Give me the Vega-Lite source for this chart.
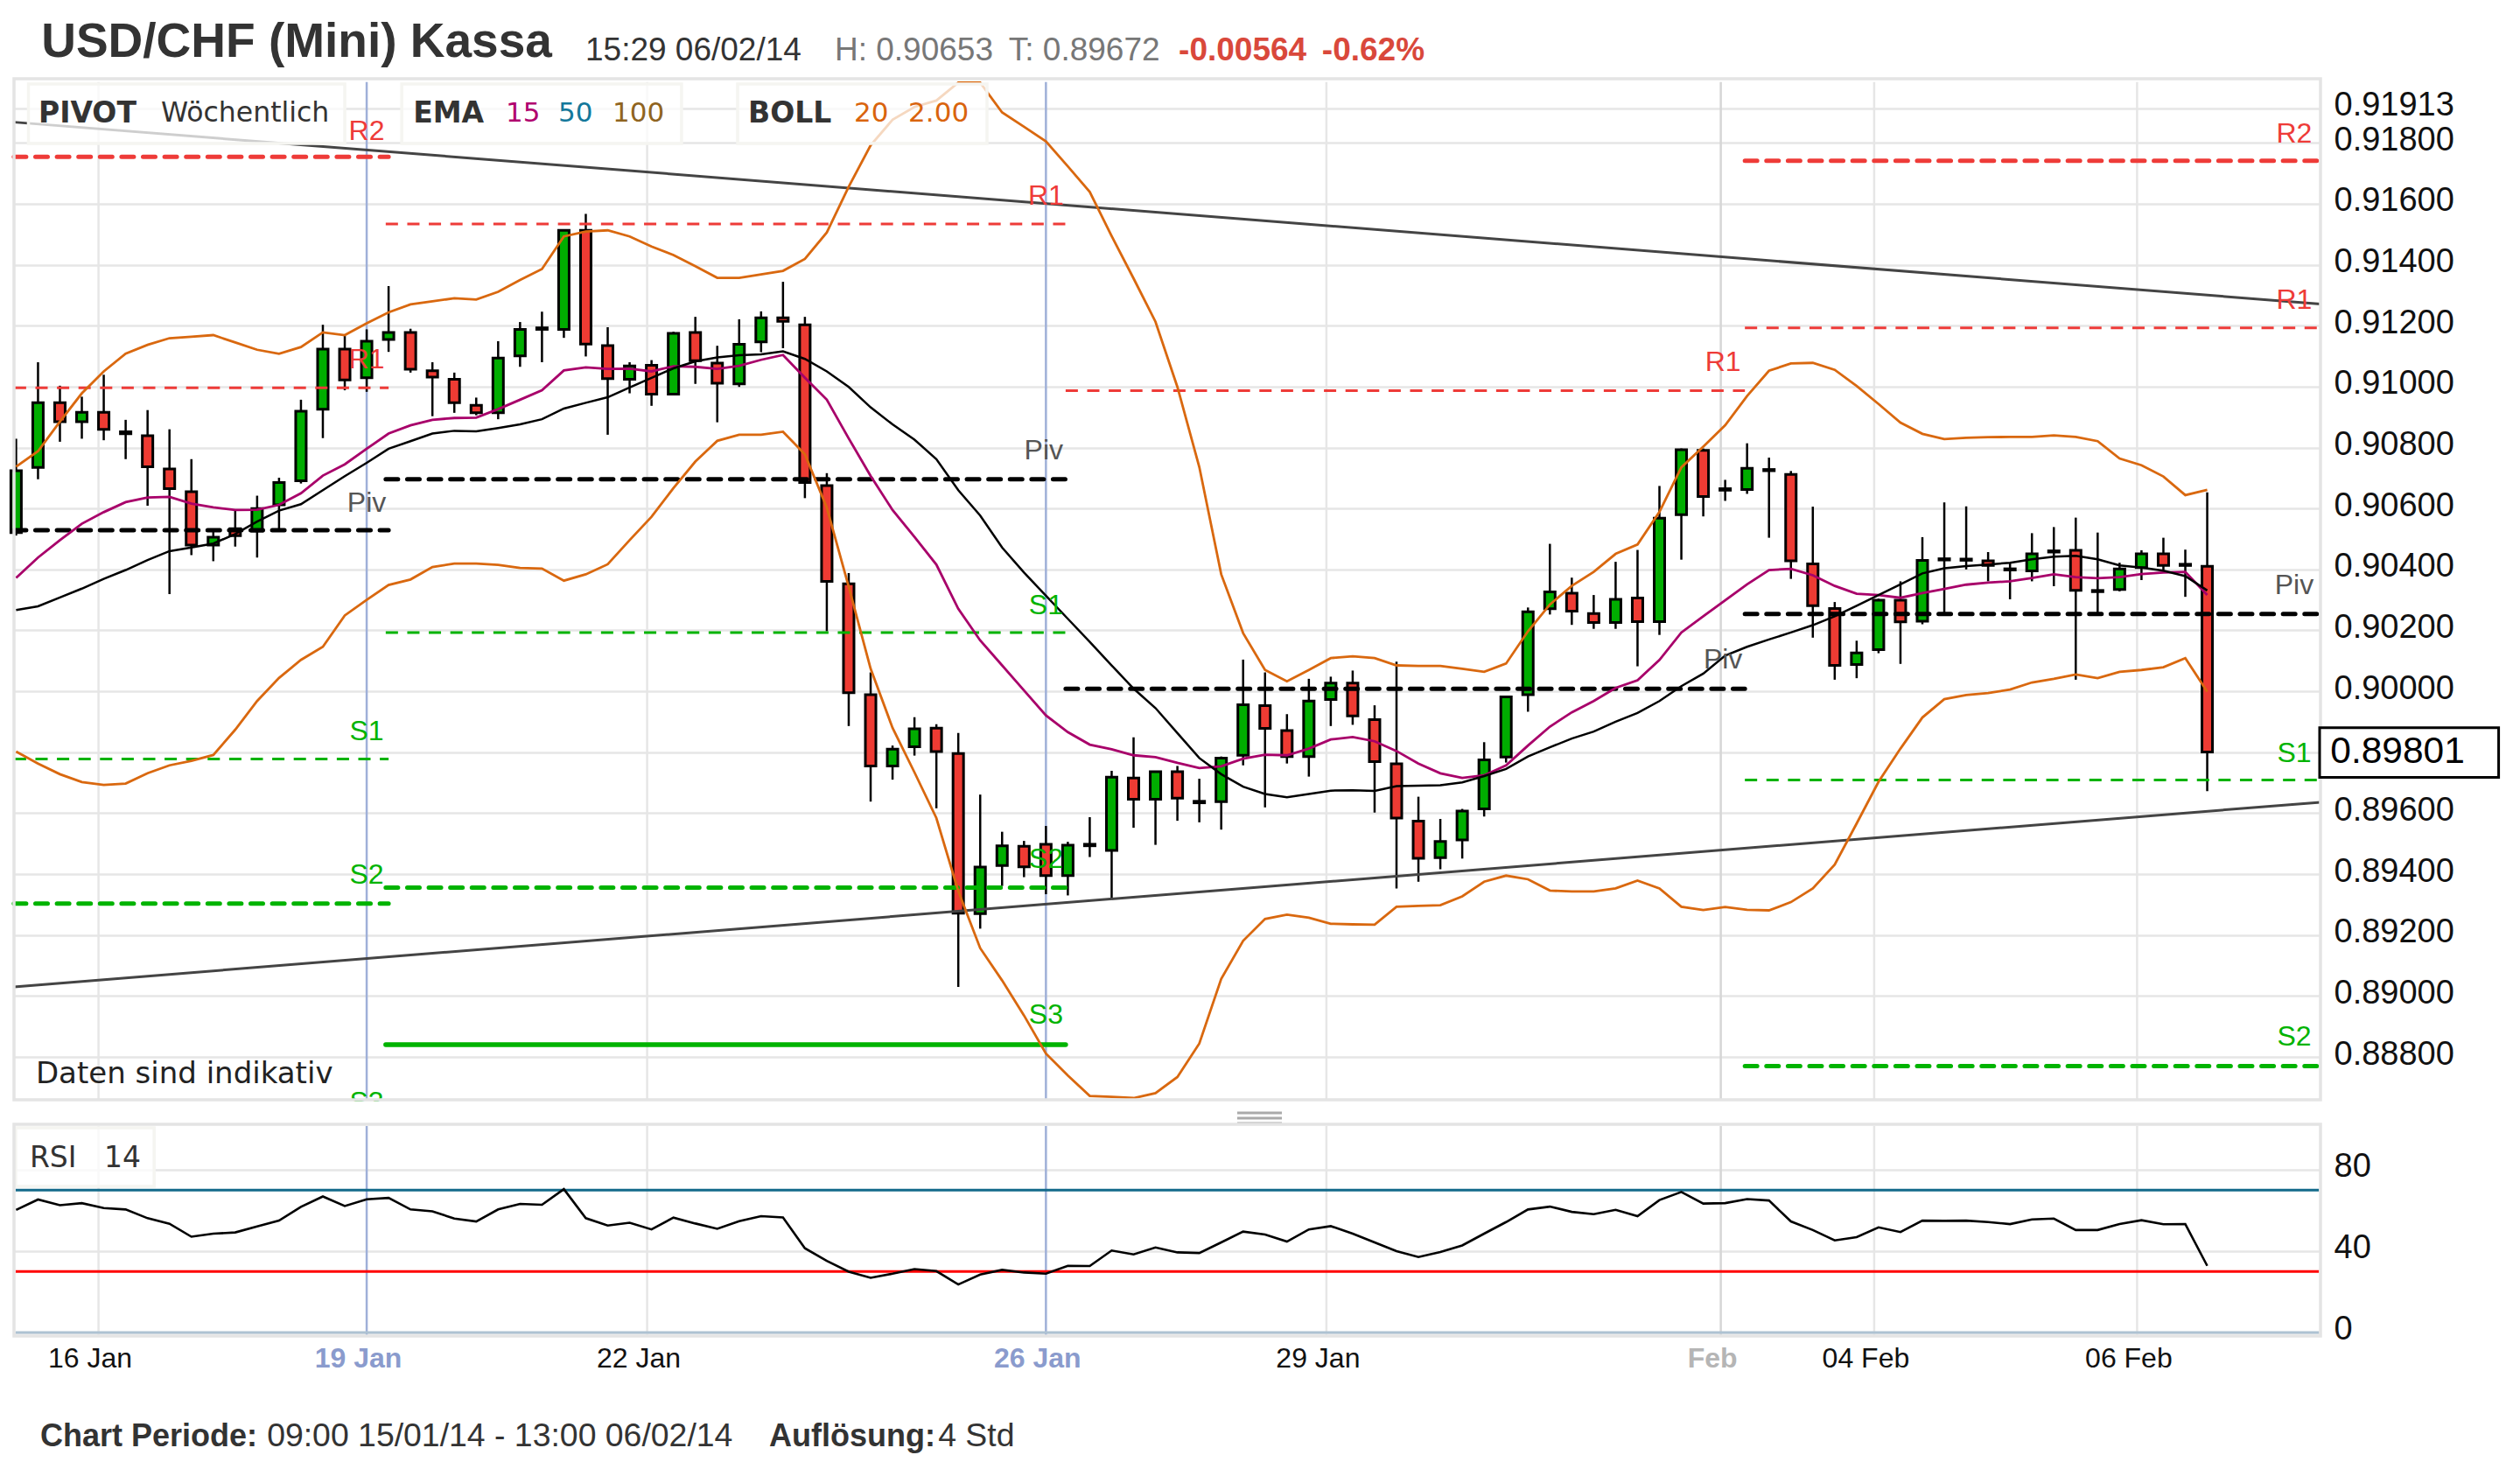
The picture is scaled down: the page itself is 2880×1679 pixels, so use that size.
{
"$schema":"https://vega.github.io/schema/vega-lite/v6.json",
"width":2636,"height":1437,
"padding":{"left":16,"top":90,"right":228,"bottom":152},
"autosize":{"type":"none"},
"background":"white",
"config":{"view":{"stroke":null}},
"datasets":{
"bars":[
{"bar":0,"open":0.90521,"high":0.90829,"low":0.90511,"close":0.90724,"ema15":0.90372,"average":0.90267,"upper":0.90737,"lower":0.89802,"rsi":60.3},
{"bar":1,"open":0.90735,"high":0.9108,"low":0.90696,"close":0.90947,"ema15":0.90439,"average":0.90279,"upper":0.90788,"lower":0.89763,"rsi":65.4},
{"bar":2,"open":0.90947,"high":0.91003,"low":0.90819,"close":0.90885,"ema15":0.90496,"average":0.90308,"upper":0.90885,"lower":0.89728,"rsi":62.6},
{"bar":3,"open":0.90885,"high":0.90967,"low":0.90829,"close":0.90916,"ema15":0.9055,"average":0.90337,"upper":0.90978,"lower":0.89702,"rsi":63.6},
{"bar":4,"open":0.90916,"high":0.91039,"low":0.90824,"close":0.9086,"ema15":0.90588,"average":0.90369,"upper":0.9105,"lower":0.89693,"rsi":61.2},
{"bar":5,"open":0.90852,"high":0.90891,"low":0.90762,"close":0.90845,"ema15":0.90621,"average":0.90398,"upper":0.91108,"lower":0.89697,"rsi":60.5},
{"bar":6,"open":0.90839,"high":0.90923,"low":0.90609,"close":0.90737,"ema15":0.90636,"average":0.90431,"upper":0.91137,"lower":0.89731,"rsi":56.2},
{"bar":7,"open":0.9073,"high":0.9086,"low":0.90319,"close":0.90665,"ema15":0.90638,"average":0.9046,"upper":0.91159,"lower":0.89757,"rsi":53.5},
{"bar":8,"open":0.90655,"high":0.90762,"low":0.90447,"close":0.9048,"ema15":0.90616,"average":0.90472,"upper":0.91164,"lower":0.89772,"rsi":47.1},
{"bar":9,"open":0.9048,"high":0.90526,"low":0.90427,"close":0.90506,"ema15":0.90604,"average":0.90485,"upper":0.91169,"lower":0.89791,"rsi":48.6},
{"bar":10,"open":0.90534,"high":0.90593,"low":0.90475,"close":0.90511,"ema15":0.90595,"average":0.90516,"upper":0.91145,"lower":0.89874,"rsi":49.2},
{"bar":11,"open":0.90526,"high":0.90642,"low":0.90439,"close":0.906,"ema15":0.90596,"average":0.90557,"upper":0.91121,"lower":0.89968,"rsi":52.2},
{"bar":12,"open":0.90612,"high":0.90701,"low":0.90526,"close":0.90685,"ema15":0.90612,"average":0.90593,"upper":0.91108,"lower":0.90044,"rsi":55},
{"bar":13,"open":0.90691,"high":0.90957,"low":0.90682,"close":0.90919,"ema15":0.9065,"average":0.90614,"upper":0.9113,"lower":0.90103,"rsi":61.8},
{"bar":14,"open":0.90926,"high":0.91203,"low":0.90831,"close":0.91123,"ema15":0.90708,"average":0.9066,"upper":0.91178,"lower":0.90146,"rsi":66.9},
{"bar":15,"open":0.91123,"high":0.91167,"low":0.90988,"close":0.91022,"ema15":0.90745,"average":0.90706,"upper":0.91169,"lower":0.90249,"rsi":62.2},
{"bar":16,"open":0.91029,"high":0.91188,"low":0.90983,"close":0.91149,"ema15":0.90796,"average":0.9075,"upper":0.91208,"lower":0.903,"rsi":65.5},
{"bar":17,"open":0.91155,"high":0.9133,"low":0.91114,"close":0.91178,"ema15":0.90846,"average":0.90796,"upper":0.91244,"lower":0.90349,"rsi":66.2},
{"bar":18,"open":0.91178,"high":0.9119,"low":0.91046,"close":0.91057,"ema15":0.90873,"average":0.90821,"upper":0.9127,"lower":0.90367,"rsi":60.5},
{"bar":19,"open":0.91052,"high":0.9108,"low":0.90903,"close":0.91031,"ema15":0.90891,"average":0.90846,"upper":0.9128,"lower":0.90408,"rsi":59.6},
{"bar":20,"open":0.91024,"high":0.91046,"low":0.90914,"close":0.90947,"ema15":0.90897,"average":0.90855,"upper":0.9129,"lower":0.90419,"rsi":56},
{"bar":21,"open":0.90939,"high":0.90964,"low":0.90906,"close":0.90914,"ema15":0.90898,"average":0.90853,"upper":0.91286,"lower":0.90419,"rsi":54.6},
{"bar":22,"open":0.90914,"high":0.91149,"low":0.90893,"close":0.91094,"ema15":0.90926,"average":0.90864,"upper":0.91311,"lower":0.90415,"rsi":60.5},
{"bar":23,"open":0.91101,"high":0.91212,"low":0.91065,"close":0.91188,"ema15":0.90957,"average":0.90876,"upper":0.9135,"lower":0.90405,"rsi":63.2},
{"bar":24,"open":0.91193,"high":0.91246,"low":0.9108,"close":0.91188,"ema15":0.90988,"average":0.90893,"upper":0.91386,"lower":0.90403,"rsi":62.8},
{"bar":25,"open":0.91188,"high":0.91516,"low":0.9116,"close":0.91513,"ema15":0.91053,"average":0.90928,"upper":0.91493,"lower":0.90363,"rsi":70.5},
{"bar":26,"open":0.91513,"high":0.91567,"low":0.91099,"close":0.9114,"ema15":0.91063,"average":0.90947,"upper":0.91509,"lower":0.90384,"rsi":56.2},
{"bar":27,"open":0.91135,"high":0.91195,"low":0.90842,"close":0.91026,"ema15":0.91058,"average":0.90965,"upper":0.91513,"lower":0.90417,"rsi":52.6},
{"bar":28,"open":0.91024,"high":0.9108,"low":0.90978,"close":0.91068,"ema15":0.91059,"average":0.90997,"upper":0.91493,"lower":0.90496,"rsi":54},
{"bar":29,"open":0.9107,"high":0.91087,"low":0.90937,"close":0.90975,"ema15":0.9105,"average":0.91029,"upper":0.9146,"lower":0.90573,"rsi":50.7},
{"bar":30,"open":0.90975,"high":0.9118,"low":0.90973,"close":0.91175,"ema15":0.91067,"average":0.9106,"upper":0.91432,"lower":0.90667,"rsi":56.5},
{"bar":31,"open":0.91178,"high":0.91229,"low":0.91009,"close":0.91085,"ema15":0.91065,"average":0.91083,"upper":0.91395,"lower":0.90754,"rsi":53.6},
{"bar":32,"open":0.91077,"high":0.91134,"low":0.90883,"close":0.91011,"ema15":0.91058,"average":0.91096,"upper":0.91357,"lower":0.90822,"rsi":51},
{"bar":33,"open":0.91009,"high":0.91221,"low":0.90999,"close":0.91139,"ema15":0.91068,"average":0.91103,"upper":0.91357,"lower":0.90842,"rsi":54.7},
{"bar":34,"open":0.91147,"high":0.91247,"low":0.91113,"close":0.91226,"ema15":0.91088,"average":0.91106,"upper":0.91368,"lower":0.90842,"rsi":57.2},
{"bar":35,"open":0.91226,"high":0.91344,"low":0.91126,"close":0.91214,"ema15":0.91104,"average":0.91116,"upper":0.9138,"lower":0.90852,"rsi":56.6},
{"bar":36,"open":0.91203,"high":0.91229,"low":0.90634,"close":0.90685,"ema15":0.91029,"average":0.91091,"upper":0.91419,"lower":0.90778,"rsi":41.4},
{"bar":37,"open":0.90675,"high":0.90716,"low":0.90197,"close":0.90361,"ema15":0.90957,"average":0.9105,"upper":0.91506,"lower":0.90603,"rsi":35.2},
{"bar":38,"open":0.90353,"high":0.90388,"low":0.89886,"close":0.89995,"ema15":0.9083,"average":0.90999,"upper":0.91656,"lower":0.90343,"rsi":29.9},
{"bar":39,"open":0.89989,"high":0.90062,"low":0.89638,"close":0.89755,"ema15":0.90707,"average":0.90932,"upper":0.91792,"lower":0.90074,"rsi":26.9},
{"bar":40,"open":0.89755,"high":0.89822,"low":0.8971,"close":0.8981,"ema15":0.90595,"average":0.90876,"upper":0.91876,"lower":0.8988,"rsi":28.9},
{"bar":41,"open":0.89818,"high":0.89915,"low":0.89789,"close":0.89877,"ema15":0.90507,"average":0.90826,"upper":0.91918,"lower":0.89734,"rsi":31.2},
{"bar":42,"open":0.89879,"high":0.89892,"low":0.89616,"close":0.89802,"ema15":0.90416,"average":0.90762,"upper":0.91939,"lower":0.89584,"rsi":30.2},
{"bar":43,"open":0.89796,"high":0.89863,"low":0.8903,"close":0.89272,"ema15":0.90271,"average":0.9066,"upper":0.91998,"lower":0.89344,"rsi":23.6},
{"bar":44,"open":0.8927,"high":0.89661,"low":0.89221,"close":0.89423,"ema15":0.90167,"average":0.90577,"upper":0.91998,"lower":0.89157,"rsi":28.5},
{"bar":45,"open":0.89428,"high":0.89539,"low":0.89361,"close":0.89493,"ema15":0.90085,"average":0.90472,"upper":0.919,"lower":0.89051,"rsi":30.8},
{"bar":46,"open":0.89491,"high":0.89509,"low":0.8939,"close":0.89424,"ema15":0.90003,"average":0.9039,"upper":0.91853,"lower":0.88936,"rsi":29.5},
{"bar":47,"open":0.89498,"high":0.89558,"low":0.89334,"close":0.89395,"ema15":0.89921,"average":0.90314,"upper":0.91805,"lower":0.88811,"rsi":28.9},
{"bar":48,"open":0.89395,"high":0.89506,"low":0.8933,"close":0.89495,"ema15":0.89866,"average":0.90238,"upper":0.91723,"lower":0.88739,"rsi":32.8},
{"bar":49,"open":0.89498,"high":0.89587,"low":0.89456,"close":0.89493,"ema15":0.89825,"average":0.90162,"upper":0.91639,"lower":0.88672,"rsi":32.7},
{"bar":50,"open":0.89478,"high":0.89739,"low":0.89322,"close":0.89718,"ema15":0.8981,"average":0.90085,"upper":0.91494,"lower":0.88669,"rsi":40.3},
{"bar":51,"open":0.89715,"high":0.89849,"low":0.89552,"close":0.89646,"ema15":0.8979,"average":0.90009,"upper":0.91355,"lower":0.88665,"rsi":38.4},
{"bar":52,"open":0.89646,"high":0.89739,"low":0.89496,"close":0.89736,"ema15":0.89784,"average":0.89945,"upper":0.91213,"lower":0.88681,"rsi":41.8},
{"bar":53,"open":0.89736,"high":0.89755,"low":0.89575,"close":0.89649,"ema15":0.89765,"average":0.89863,"upper":0.90999,"lower":0.88734,"rsi":39.4},
{"bar":54,"open":0.89639,"high":0.89713,"low":0.8957,"close":0.89634,"ema15":0.89748,"average":0.89781,"upper":0.90736,"lower":0.88844,"rsi":39.1},
{"bar":55,"open":0.89638,"high":0.89786,"low":0.89546,"close":0.89781,"ema15":0.89754,"average":0.89728,"upper":0.90384,"lower":0.89056,"rsi":44.3},
{"bar":56,"open":0.8979,"high":0.90104,"low":0.89757,"close":0.89956,"ema15":0.89779,"average":0.89687,"upper":0.90191,"lower":0.89181,"rsi":49.6},
{"bar":57,"open":0.89953,"high":0.90062,"low":0.89619,"close":0.89878,"ema15":0.89792,"average":0.89663,"upper":0.9007,"lower":0.89253,"rsi":48.2},
{"bar":58,"open":0.89871,"high":0.89925,"low":0.89763,"close":0.89786,"ema15":0.8979,"average":0.89652,"upper":0.90033,"lower":0.89267,"rsi":44.7},
{"bar":59,"open":0.89786,"high":0.90041,"low":0.8972,"close":0.89968,"ema15":0.89812,"average":0.89663,"upper":0.9007,"lower":0.89257,"rsi":50.7},
{"bar":60,"open":0.89973,"high":0.90048,"low":0.89886,"close":0.90027,"ema15":0.89842,"average":0.89674,"upper":0.90109,"lower":0.89237,"rsi":52.3},
{"bar":61,"open":0.90027,"high":0.90068,"low":0.8989,"close":0.89919,"ema15":0.8985,"average":0.89675,"upper":0.90115,"lower":0.89235,"rsi":48.6},
{"bar":62,"open":0.89907,"high":0.89954,"low":0.89602,"close":0.89769,"ema15":0.89836,"average":0.89673,"upper":0.90109,"lower":0.89234,"rsi":44.3},
{"bar":63,"open":0.89762,"high":0.90097,"low":0.89353,"close":0.89584,"ema15":0.89804,"average":0.89689,"upper":0.90085,"lower":0.89293,"rsi":40},
{"bar":64,"open":0.89574,"high":0.89654,"low":0.89375,"close":0.89452,"ema15":0.89763,"average":0.8969,"upper":0.90083,"lower":0.89296,"rsi":37.1},
{"bar":65,"open":0.89454,"high":0.89581,"low":0.89416,"close":0.89507,"ema15":0.89731,"average":0.89692,"upper":0.90083,"lower":0.89298,"rsi":39.6},
{"bar":66,"open":0.89512,"high":0.89614,"low":0.89451,"close":0.89607,"ema15":0.89716,"average":0.89701,"upper":0.90074,"lower":0.89327,"rsi":42.8},
{"bar":67,"open":0.89614,"high":0.89833,"low":0.89589,"close":0.89775,"ema15":0.89724,"average":0.89722,"upper":0.90064,"lower":0.89375,"rsi":48.6},
{"bar":68,"open":0.89784,"high":0.89986,"low":0.89766,"close":0.89982,"ema15":0.89757,"average":0.89745,"upper":0.90091,"lower":0.89395,"rsi":54.3},
{"bar":69,"open":0.89989,"high":0.90275,"low":0.89933,"close":0.90261,"ema15":0.89822,"average":0.89786,"upper":0.90197,"lower":0.89383,"rsi":60.5},
{"bar":70,"open":0.90271,"high":0.90484,"low":0.90252,"close":0.90326,"ema15":0.89884,"average":0.89816,"upper":0.90285,"lower":0.89346,"rsi":61.9},
{"bar":71,"open":0.90322,"high":0.90373,"low":0.90218,"close":0.90263,"ema15":0.89931,"average":0.89845,"upper":0.90346,"lower":0.89343,"rsi":59.3},
{"bar":72,"open":0.90255,"high":0.90316,"low":0.90205,"close":0.90226,"ema15":0.89968,"average":0.89868,"upper":0.90392,"lower":0.89343,"rsi":58.2},
{"bar":73,"open":0.90226,"high":0.90425,"low":0.90205,"close":0.90302,"ema15":0.90011,"average":0.899,"upper":0.90451,"lower":0.89353,"rsi":60.3},
{"bar":74,"open":0.90306,"high":0.90464,"low":0.90082,"close":0.90229,"ema15":0.90036,"average":0.89929,"upper":0.90482,"lower":0.89379,"rsi":57.2},
{"bar":75,"open":0.90229,"high":0.90674,"low":0.90185,"close":0.90568,"ema15":0.90103,"average":0.89968,"upper":0.90589,"lower":0.89353,"rsi":65.1},
{"bar":76,"open":0.9058,"high":0.90797,"low":0.90432,"close":0.90793,"ema15":0.90193,"average":0.90017,"upper":0.90735,"lower":0.89293,"rsi":69.1},
{"bar":77,"open":0.90791,"high":0.90797,"low":0.90574,"close":0.90639,"ema15":0.90246,"average":0.90058,"upper":0.90803,"lower":0.89282,"rsi":63.4},
{"bar":78,"open":0.90665,"high":0.90694,"low":0.90625,"close":0.9066,"ema15":0.90299,"average":0.90117,"upper":0.90873,"lower":0.89292,"rsi":63.6},
{"bar":79,"open":0.90662,"high":0.90814,"low":0.90648,"close":0.90732,"ema15":0.90351,"average":0.90146,"upper":0.90969,"lower":0.89283,"rsi":65.6},
{"bar":80,"open":0.90728,"high":0.90767,"low":0.90504,"close":0.90724,"ema15":0.90398,"average":0.9017,"upper":0.91052,"lower":0.89281,"rsi":64.9},
{"bar":81,"open":0.90712,"high":0.90723,"low":0.90369,"close":0.90428,"ema15":0.90402,"average":0.90193,"upper":0.91076,"lower":0.89308,"rsi":54.6},
{"bar":82,"open":0.90418,"high":0.90606,"low":0.90176,"close":0.90281,"ema15":0.90381,"average":0.90217,"upper":0.91078,"lower":0.89353,"rsi":50.4},
{"bar":83,"open":0.90272,"high":0.90293,"low":0.90038,"close":0.90085,"ema15":0.90346,"average":0.90246,"upper":0.91055,"lower":0.89431,"rsi":45.3},
{"bar":84,"open":0.90088,"high":0.90166,"low":0.90043,"close":0.90126,"ema15":0.9032,"average":0.90281,"upper":0.91002,"lower":0.89566,"rsi":46.9},
{"bar":85,"open":0.90137,"high":0.90304,"low":0.90125,"close":0.90299,"ema15":0.90316,"average":0.90316,"upper":0.90943,"lower":0.89703,"rsi":51.7},
{"bar":86,"open":0.90299,"high":0.90361,"low":0.9009,"close":0.90228,"ema15":0.90307,"average":0.90351,"upper":0.90882,"lower":0.89812,"rsi":49.4},
{"bar":87,"open":0.9023,"high":0.90506,"low":0.9022,"close":0.9043,"ema15":0.90322,"average":0.90387,"upper":0.90845,"lower":0.89914,"rsi":55},
{"bar":88,"open":0.90435,"high":0.9062,"low":0.90258,"close":0.90431,"ema15":0.90336,"average":0.90404,"upper":0.90828,"lower":0.89974,"rsi":54.9},
{"bar":89,"open":0.90434,"high":0.90607,"low":0.904,"close":0.9043,"ema15":0.9035,"average":0.90411,"upper":0.90832,"lower":0.89988,"rsi":55},
{"bar":90,"open":0.90428,"high":0.90457,"low":0.90361,"close":0.90413,"ema15":0.90357,"average":0.90416,"upper":0.90834,"lower":0.89994,"rsi":54.3},
{"bar":91,"open":0.90402,"high":0.90422,"low":0.90302,"close":0.90398,"ema15":0.90361,"average":0.90422,"upper":0.90835,"lower":0.90006,"rsi":53.3},
{"bar":92,"open":0.90395,"high":0.90519,"low":0.90361,"close":0.90451,"ema15":0.90372,"average":0.90433,"upper":0.90835,"lower":0.90029,"rsi":55.6},
{"bar":93,"open":0.90461,"high":0.90539,"low":0.90345,"close":0.90457,"ema15":0.90384,"average":0.90442,"upper":0.9084,"lower":0.90041,"rsi":56},
{"bar":94,"open":0.90463,"high":0.9057,"low":0.90038,"close":0.90331,"ema15":0.90375,"average":0.90445,"upper":0.90835,"lower":0.90055,"rsi":50.4},
{"bar":95,"open":0.90331,"high":0.90521,"low":0.90258,"close":0.90327,"ema15":0.90371,"average":0.90433,"upper":0.90821,"lower":0.90043,"rsi":50.4},
{"bar":96,"open":0.90334,"high":0.90422,"low":0.90328,"close":0.90402,"ema15":0.90375,"average":0.90413,"upper":0.90764,"lower":0.90064,"rsi":53.3},
{"bar":97,"open":0.90406,"high":0.90463,"low":0.90365,"close":0.90451,"ema15":0.90385,"average":0.90406,"upper":0.90742,"lower":0.9007,"rsi":55.2},
{"bar":98,"open":0.90451,"high":0.90504,"low":0.90398,"close":0.90413,"ema15":0.9039,"average":0.90396,"upper":0.90705,"lower":0.90079,"rsi":53.2},
{"bar":99,"open":0.90417,"high":0.90465,"low":0.9031,"close":0.90413,"ema15":0.90392,"average":0.90378,"upper":0.90644,"lower":0.90109,"rsi":53.3},
{"bar":100,"open":0.9041,"high":0.90653,"low":0.89672,"close":0.89801,"ema15":0.90316,"average":0.90331,"upper":0.90661,"lower":0.89999,"rsi":32.8}
],
"dates":[
{"bar":3.76,"kind":"day","price":0.92,"price2":0.886593,"value":101.5,"value2":-1.72},
{"bar":16,"kind":"week","price":0.92,"price2":0.886593,"value":101.5,"value2":-1.72},
{"bar":28.8,"kind":"day","price":0.92,"price2":0.886593,"value":101.5,"value2":-1.72},
{"bar":47,"kind":"week","price":0.92,"price2":0.886593,"value":101.5,"value2":-1.72},
{"bar":59.8,"kind":"day","price":0.92,"price2":0.886593,"value":101.5,"value2":-1.72},
{"bar":77.8,"kind":"month","price":0.92,"price2":0.886593,"value":101.5,"value2":-1.72},
{"bar":84.8,"kind":"day","price":0.92,"price2":0.886593,"value":101.5,"value2":-1.72},
{"bar":96.8,"kind":"day","price":0.92,"price2":0.886593,"value":101.5,"value2":-1.72}
],
"levels":[
{"bar":-0.1,"bar2":17,"price":0.91754,"kind":"R","style":"thick"},
{"bar":-0.1,"bar2":17,"price":0.90996,"kind":"R","style":"thin"},
{"bar":-0.1,"bar2":17,"price":0.90529,"kind":"P","style":"thick"},
{"bar":-0.1,"bar2":17,"price":0.89778,"kind":"S","style":"thin"},
{"bar":-0.1,"bar2":17,"price":0.89303,"kind":"S","style":"thick"},
{"bar":16.87,"bar2":47.9,"price":0.91534,"kind":"R","style":"thin"},
{"bar":16.87,"bar2":47.9,"price":0.90696,"kind":"P","style":"thick"},
{"bar":16.87,"bar2":47.9,"price":0.90193,"kind":"S","style":"thin"},
{"bar":16.87,"bar2":47.9,"price":0.89356,"kind":"S","style":"thick"},
{"bar":16.87,"bar2":47.9,"price":0.8884,"kind":"S","style":"solid"},
{"bar":47.9,"bar2":78.9,"price":0.90987,"kind":"R","style":"thin"},
{"bar":47.9,"bar2":78.9,"price":0.90008,"kind":"P","style":"thick"},
{"bar":78.9,"bar2":105.05,"price":0.91741,"kind":"R","style":"thick"},
{"bar":78.9,"bar2":105.05,"price":0.91193,"kind":"R","style":"thin"},
{"bar":78.9,"bar2":105.05,"price":0.90254,"kind":"P","style":"thick"},
{"bar":78.9,"bar2":105.05,"price":0.89709,"kind":"S","style":"thin"},
{"bar":78.9,"bar2":105.05,"price":0.8877,"kind":"S","style":"thick"}
],
"levelLabels":[
{"bar":16,"price":0.91839,"t":"R2","kind":"R"},
{"bar":16,"price":0.9109,"t":"R1","kind":"R"},
{"bar":16,"price":0.90619,"t":"Piv","kind":"P"},
{"bar":16,"price":0.89868,"t":"S1","kind":"S"},
{"bar":16,"price":0.89396,"t":"S2","kind":"S"},
{"bar":16,"price":0.88651,"t":"S3","kind":"S"},
{"bar":47,"price":0.91625,"t":"R1","kind":"R"},
{"bar":46.9,"price":0.90791,"t":"Piv","kind":"P"},
{"bar":47,"price":0.90282,"t":"S1","kind":"S"},
{"bar":47,"price":0.8945,"t":"S2","kind":"S"},
{"bar":47,"price":0.88938,"t":"S3","kind":"S"},
{"bar":77.9,"price":0.9108,"t":"R1","kind":"R"},
{"bar":77.9,"price":0.90103,"t":"Piv","kind":"P"},
{"bar":103.97,"price":0.91831,"t":"R2","kind":"R"},
{"bar":103.97,"price":0.91283,"t":"R1","kind":"R"},
{"bar":103.97,"price":0.90348,"t":"Piv","kind":"P"},
{"bar":103.97,"price":0.89797,"t":"S1","kind":"S"},
{"bar":103.97,"price":0.88866,"t":"S2","kind":"S"}
]
},
"encoding":{"x":{"field":"bar","type":"quantitative","scale":{"domain":[-0.096,105.17],"zero":false,"nice":false,"padding":0},
"axis":{"title":null,"values":[3.76,16,28.8,47,59.8,77.8,84.8,96.8],"grid":false,"ticks":false,"domain":false,"labelFont":"Liberation Sans","labelFontSize":32,"labelPadding":10,"labelOffset":-10,"labelOverlap":false,"labelBound":false,"labelFlush":false,
"labelExpr":"datum.value==3.76?'16 Jan':datum.value==16?'19 Jan':datum.value==28.8?'22 Jan':datum.value==47?'26 Jan':datum.value==59.8?'29 Jan':datum.value==77.8?'Feb':datum.value==84.8?'04 Feb':'06 Feb'",
"labelColor":{"condition":[{"test":"datum.value==16||datum.value==47","value":"#8a9bcd"},{"test":"datum.value==77.8","value":"#b5b5b5"}],"value":"#111111"},
"labelFontWeight":{"condition":{"test":"datum.value==16||datum.value==47||datum.value==77.8","value":"bold"},"value":"normal"}}}},
"resolve":{"scale":{"y":"independent"},"axis":{"y":"independent"}},
"layer":[
{"encoding":{"y":{"field":"price","type":"quantitative","scale":{"domain":[0.886593,0.920105],"range":[1167,0],"zero":false,"nice":false},
"axis":{"orient":"right","title":null,"values":[0.888,0.89,0.892,0.894,0.896,0.898,0.9,0.902,0.904,0.906,0.908,0.91,0.912,0.914,0.916,0.918,0.91913],"labelExpr":"datum.value==0.898?'':format(datum.value,'.5f')","grid":true,"gridColor":"#e6e6e6","gridWidth":2.5,"ticks":false,"domain":false,"labelFont":"Liberation Sans","labelFontSize":38,"labelColor":"#111111","labelPadding":15,"labelOffset":-3,"labelOverlap":false,"labelBound":false,"labelFlush":false}}},
"layer":[
{"data":{"name":"dates"},"mark":{"type":"rule","strokeWidth":2.5},"encoding":{"y2":{"field":"price2"},"stroke":{"field":"kind","type":"nominal","legend":null,"scale":{"domain":["day","week","month","overbought","oversold","zero","R","P","S"],"range":["#e6e6e6","#9fb0d8","#d6d6d6","#136a8a","#ff0000","#aec2d2","#ee3b38","#000000","#00b300"]}}}},
{"data":{"name":"bars"},"mark":{"type":"rule","color":"#000000","strokeWidth":2.5},"encoding":{"y":{"field":"low"},"y2":{"field":"high"}}},
{"data":{"name":"bars"},"mark":{"type":"bar","size":12,"stroke":"#000000","strokeWidth":3},"encoding":{"y":{"field":"open"},"y2":{"field":"close"},"fill":{"condition":{"test":"datum.close>=datum.open","value":"#00ad00"},"value":"#ee3b33"}}},
{"data":{"name":"levels"},"transform":[{"filter":"datum.style=='thin'"}],"mark":{"type":"rule","strokeWidth":3,"strokeDash":[14,10.6]},"encoding":{"x2":{"field":"bar2"},"stroke":{"field":"kind","type":"nominal","legend":null,"scale":{"domain":["day","week","month","overbought","oversold","zero","R","P","S"],"range":["#e6e6e6","#9fb0d8","#d6d6d6","#136a8a","#ff0000","#aec2d2","#ee3b38","#000000","#00b300"]}}}},
{"data":{"name":"levels"},"transform":[{"filter":"datum.style=='thick'"}],"mark":{"type":"rule","strokeWidth":5,"strokeCap":"round","strokeDash":[14,10.6]},"encoding":{"x2":{"field":"bar2"},"stroke":{"field":"kind","type":"nominal","legend":null,"scale":{"domain":["day","week","month","overbought","oversold","zero","R","P","S"],"range":["#e6e6e6","#9fb0d8","#d6d6d6","#136a8a","#ff0000","#aec2d2","#ee3b38","#000000","#00b300"]}}}},
{"data":{"name":"levels"},"transform":[{"filter":"datum.style=='solid'"}],"mark":{"type":"rule","strokeWidth":5.5,"strokeCap":"round"},"encoding":{"x2":{"field":"bar2"},"stroke":{"field":"kind","type":"nominal","legend":null,"scale":{"domain":["day","week","month","overbought","oversold","zero","R","P","S"],"range":["#e6e6e6","#9fb0d8","#d6d6d6","#136a8a","#ff0000","#aec2d2","#ee3b38","#000000","#00b300"]}}}},
{"data":{"values":[{"bar":-0.096,"bar2":105.17,"price":0.91868,"price2":0.91271},{"bar":-0.096,"bar2":105.17,"price":0.8903,"price2":0.89636}]},"mark":{"type":"rule","color":"#444444","strokeWidth":3},"encoding":{"x2":{"field":"bar2"},"y2":{"field":"price2"}}},
{"data":{"name":"bars"},"mark":{"type":"line","color":"#a8006a","strokeWidth":2.8},"encoding":{"y":{"field":"ema15"}}},
{"data":{"name":"bars"},"mark":{"type":"line","color":"#000000","strokeWidth":2.5},"encoding":{"y":{"field":"average"}}},
{"data":{"name":"bars"},"mark":{"type":"line","color":"#d9680f","strokeWidth":2.8},"encoding":{"y":{"field":"upper"}}},
{"data":{"name":"bars"},"mark":{"type":"line","color":"#d9680f","strokeWidth":2.8},"encoding":{"y":{"field":"lower"}}},
{"data":{"name":"levelLabels"},"mark":{"type":"text","font":"Liberation Sans","fontSize":32,"align":"center","baseline":"middle"},"encoding":{"text":{"field":"t"},"fill":{"field":"kind","type":"nominal","legend":null,"scale":{"domain":["R","P","S"],"range":["#ee3b38","#555555","#00b300"]}}}},
{"data":{"values":[{"bar":0.563,"bar2":15,"price":0.91993,"price2":0.91798},{"bar":17.6,"bar2":30.37,"price":0.91993,"price2":0.91798},{"bar":32.93,"bar2":44.31,"price":0.91993,"price2":0.91798}]},"mark":{"type":"rect","fill":"#ffffff","fillOpacity":0.74,"stroke":"#f5f5f1","strokeWidth":3.5},"encoding":{"x2":{"field":"bar2"},"y2":{"field":"price2"}}},
{"data":{"values":[{"bar":1.02,"price":0.91895,"t":"PIVOT"},{"bar":18.12,"price":0.91895,"t":"EMA"},{"bar":33.41,"price":0.91895,"t":"BOLL"}]},"mark":{"type":"text","font":"DejaVu Sans","fontSize":33,"fontWeight":"bold","align":"left","baseline":"middle","color":"#333333"},"encoding":{"text":{"field":"t"}}},
{"data":{"values":[{"bar":6.61,"price":0.91895,"t":"Wöchentlich"}]},"mark":{"type":"text","font":"DejaVu Sans","fontSize":31.5,"align":"left","baseline":"middle","color":"#333333"},"encoding":{"text":{"field":"t"}}},
{"data":{"values":[{"bar":22.35,"price":0.91895,"t":"15"}]},"mark":{"type":"text","font":"DejaVu Sans","fontSize":31,"align":"left","baseline":"middle","color":"#b0006e"},"encoding":{"text":{"field":"t"}}},
{"data":{"values":[{"bar":24.74,"price":0.91895,"t":"50"}]},"mark":{"type":"text","font":"DejaVu Sans","fontSize":31,"align":"left","baseline":"middle","color":"#13789b"},"encoding":{"text":{"field":"t"}}},
{"data":{"values":[{"bar":27.22,"price":0.91895,"t":"100"}]},"mark":{"type":"text","font":"DejaVu Sans","fontSize":31,"align":"left","baseline":"middle","color":"#8f6420"},"encoding":{"text":{"field":"t"}}},
{"data":{"values":[{"bar":38.24,"price":0.91895,"t":"20"},{"bar":40.72,"price":0.91895,"t":"2.00"}]},"mark":{"type":"text","font":"DejaVu Sans","fontSize":31,"align":"left","baseline":"middle","color":"#d9640d"},"encoding":{"text":{"field":"t"}}},
{"data":{"values":[{"bar":0.9,"price":0.88743,"t":"Daten sind indikativ"}]},"mark":{"type":"text","font":"DejaVu Sans","fontSize":34,"align":"left","baseline":"middle","color":"#222222"},"encoding":{"text":{"field":"t"}}},
{"data":{"values":[{"bar":-0.6,"bar2":105.6,"price":0.886535,"price2":0.8859}]},"mark":{"type":"rect","fill":"#ffffff"},"encoding":{"x2":{"field":"bar2"},"y2":{"field":"price2"}}},
{"data":{"values":[{"bar":-0.096,"bar2":105.17,"price":0.920105,"price2":0.886593}]},"mark":{"type":"rect","fill":null,"stroke":"#e4e4e4","strokeWidth":3.5},"encoding":{"x2":{"field":"bar2"},"y2":{"field":"price2"}}},
{"data":{"values":[{"bar":55.73,"bar2":57.77,"price":0.88616},{"bar":55.73,"bar2":57.77,"price":0.88599},{"bar":55.73,"bar2":57.77,"price":0.88582}]},"mark":{"type":"rule","color":"#aaaaaa","strokeWidth":3},"encoding":{"x2":{"field":"bar2"}}},
{"data":{"values":[{"bar":105.13,"bar2":113.3,"price":0.898804,"price2":0.897172}]},"mark":{"type":"rect","fill":"#ffffff","stroke":"#000000","strokeWidth":3},"encoding":{"x2":{"field":"bar2"},"y2":{"field":"price2"}}},
{"data":{"values":[{"bar":105.62,"price":0.89801,"t":"0.89801"}]},"mark":{"type":"text","font":"Liberation Sans","fontSize":42.5,"align":"left","baseline":"middle","color":"#000000"},"encoding":{"text":{"field":"t"}}},
{"data":{"values":[{"bar":1.15,"price":0.920823,"t":"USD/CHF (Mini) Kassa"}]},"mark":{"type":"text","font":"Liberation Sans","fontSize":55,"fontWeight":"bold","align":"left","baseline":"alphabetic","color":"#333333"},"encoding":{"text":{"field":"t"}}},
{"data":{"values":[{"bar":25.98,"price":0.920708,"t":"15:29 06/02/14"}]},"mark":{"type":"text","font":"Liberation Sans","fontSize":37,"align":"left","baseline":"alphabetic","color":"#333333"},"encoding":{"text":{"field":"t"}}},
{"data":{"values":[{"bar":37.36,"price":0.920708,"t":"H: 0.90653"},{"bar":45.3,"price":0.920708,"t":"T: 0.89672"}]},"mark":{"type":"text","font":"Liberation Sans","fontSize":37,"align":"left","baseline":"alphabetic","color":"#777777"},"encoding":{"text":{"field":"t"}}},
{"data":{"values":[{"bar":53.06,"price":0.920708,"t":"-0.00564"},{"bar":59.6,"price":0.920708,"t":"-0.62%"}]},"mark":{"type":"text","font":"Liberation Sans","fontSize":37,"fontWeight":"bold","align":"left","baseline":"alphabetic","color":"#d9483b"},"encoding":{"text":{"field":"t"}}}
]},
{"encoding":{"y":{"field":"value","type":"quantitative","scale":{"domain":[-1.72,102.37],"range":[1437,1195],"zero":false,"nice":false},
"axis":{"orient":"right","title":null,"values":[0,40,80],"format":"d","grid":true,"gridColor":"#e6e6e6","gridWidth":2.5,"ticks":false,"domain":false,"labelFont":"Liberation Sans","labelFontSize":38,"labelColor":"#111111","labelPadding":15,"labelOffset":-4,"labelOverlap":false,"labelBound":false,"labelFlush":false}}},
"layer":[
{"data":{"name":"dates"},"mark":{"type":"rule","strokeWidth":2.5},"encoding":{"y2":{"field":"value2"},"stroke":{"field":"kind","type":"nominal","legend":null,"scale":{"domain":["day","week","month","overbought","oversold","zero","R","P","S"],"range":["#e6e6e6","#9fb0d8","#d6d6d6","#136a8a","#ff0000","#aec2d2","#ee3b38","#000000","#00b300"]}}}},
{"data":{"values":[{"bar":-0.02,"bar2":105.1,"value":70,"kind":"overbought"},{"bar":-0.02,"bar2":105.1,"value":30,"kind":"oversold"},{"bar":-0.02,"bar2":105.1,"value":0,"kind":"zero"}]},"mark":{"type":"rule","strokeWidth":3.2},"encoding":{"x2":{"field":"bar2"},"stroke":{"field":"kind","type":"nominal","legend":null,"scale":{"domain":["day","week","month","overbought","oversold","zero","R","P","S"],"range":["#e6e6e6","#9fb0d8","#d6d6d6","#136a8a","#ff0000","#aec2d2","#ee3b38","#000000","#00b300"]}}}},
{"data":{"name":"bars"},"mark":{"type":"line","color":"#000000","strokeWidth":2.6},"encoding":{"y":{"field":"rsi"}}},
{"data":{"values":[{"bar":-0.02,"bar2":6.3,"value":100.6,"value2":71.8}]},"mark":{"type":"rect","fill":"#ffffff","fillOpacity":0.74,"stroke":"#f5f5f1","strokeWidth":3.5},"encoding":{"x2":{"field":"bar2"},"y2":{"field":"value2"}}},
{"data":{"values":[{"bar":0.62,"value":85.6,"t":"RSI"},{"bar":4.02,"value":85.6,"t":"14"}]},"mark":{"type":"text","font":"DejaVu Sans","fontSize":33,"align":"left","baseline":"middle","color":"#333333"},"encoding":{"text":{"field":"t"}}},
{"data":{"values":[{"bar":-0.096,"bar2":105.17,"value":102.37,"value2":-1.72}]},"mark":{"type":"rect","fill":null,"stroke":"#e4e4e4","strokeWidth":3.5},"encoding":{"x2":{"field":"bar2"},"y2":{"field":"value2"}}},
{"data":{"values":[{"bar":1.1,"value":-55.9,"t":"Chart Periode:"},{"bar":34.37,"value":-55.9,"t":"Auflösung:"}]},"mark":{"type":"text","font":"Liberation Sans","fontSize":36,"fontWeight":"bold","align":"left","baseline":"alphabetic","color":"#333333"},"encoding":{"text":{"field":"t"}}},
{"data":{"values":[{"bar":11.45,"value":-55.9,"t":"09:00 15/01/14 - 13:00 06/02/14"},{"bar":42.08,"value":-55.9,"t":"4 Std"}]},"mark":{"type":"text","font":"Liberation Sans","fontSize":37.4,"align":"left","baseline":"alphabetic","color":"#333333"},"encoding":{"text":{"field":"t"}}}
]}
]
}
